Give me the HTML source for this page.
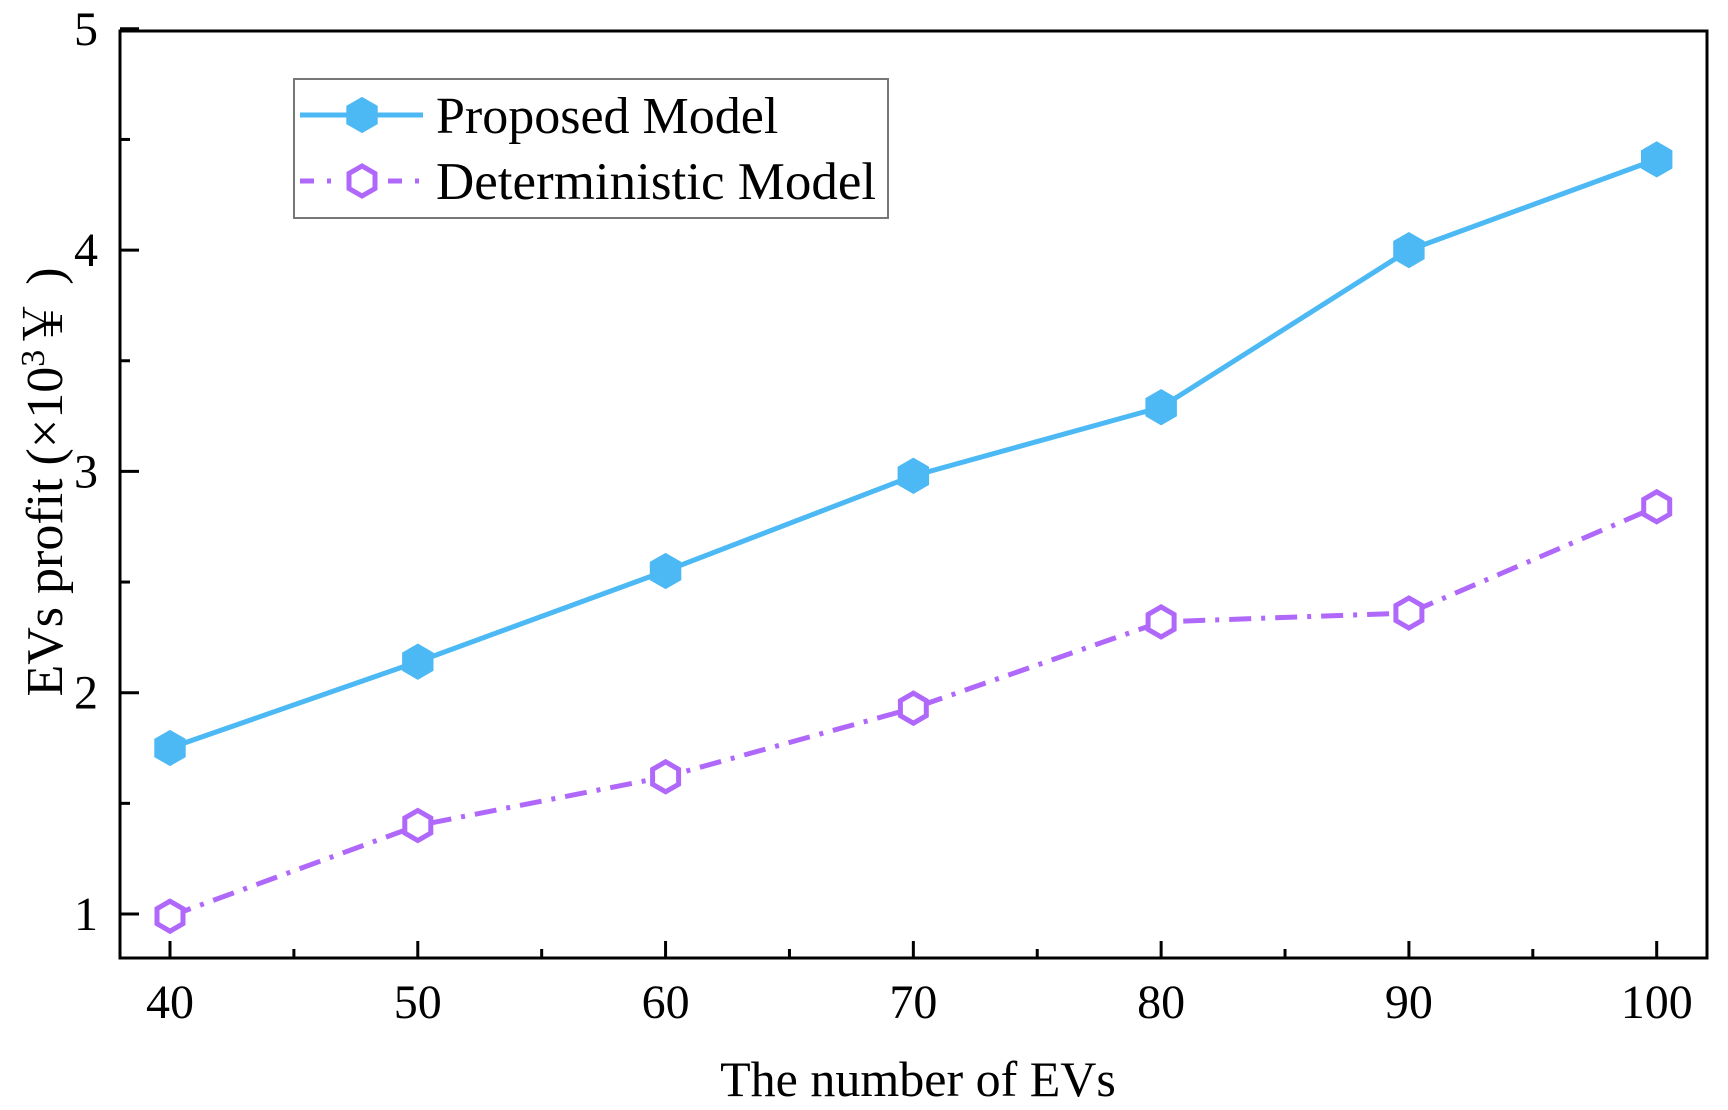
<!DOCTYPE html>
<html><head><meta charset="utf-8"><style>
html,body{margin:0;padding:0;background:#fff;}
svg{display:block;font-family:"Liberation Serif","Noto Serif CJK SC",serif;}
</style></head><body>
<svg id="chart" width="1728" height="1110" viewBox="0 0 1728 1110"></svg>
<script>
const categories = [40, 50, 60, 70, 80, 90, 100];
const proposedValues = [1.75, 2.14, 2.55, 2.98, 3.29, 4.0, 4.41];
const deterministicValues = [0.99, 1.40, 1.62, 1.93, 2.32, 2.36, 2.84];
const yTickLabels = [1, 2, 3, 4, 5];
const xTickLabels = [40, 50, 60, 70, 80, 90, 100];

const NS = "http://www.w3.org/2000/svg";
const svg = document.getElementById('chart');
const L = 120, R = 1707, T = 31, B = 958;
function xs(v){ return 170 + (v - 40) * (1656.7 - 170) / 60; }
function ys(v){ return 914 - (v - 1) * 221.3; }
function mk(tag, attrs, parent){
  const e = document.createElementNS(NS, tag);
  for (const k in attrs) e.setAttribute(k, attrs[k]);
  (parent || svg).appendChild(e);
  return e;
}
function hex(cx, cy, r){
  const p = [];
  for (let i = 0; i < 6; i++){ const a = Math.PI/2 + i*Math.PI/3; p.push((cx + r*Math.cos(a)).toFixed(1) + ',' + (cy - r*Math.sin(a)).toFixed(1)); }
  return p.join(' ');
}

const frame = mk('rect', {x:L, y:T, width:R-L, height:B-T, fill:'none', stroke:'#000', 'stroke-width':3});



for (let v = 40; v <= 100; v += 5){
  const major = v % 10 === 0;
  const t = mk('line', {x1:xs(v), x2:xs(v), y1:B, y2:B - (major ? 17 : 9), stroke:'#000', 'stroke-width':3});
  
  
}
xTickLabels.forEach(v => {
  const t = mk('text', {x:xs(v), y:1018, 'text-anchor':'middle', 'font-size':48, fill:'#000'});
  t.textContent = v;
  
  
});
for (let v = 1; v <= 5; v += 0.5){
  const major = Number.isInteger(v);
  const t = mk('line', {x1:L, x2:L + (major ? 19 : 10), y1:ys(v), y2:ys(v), stroke:'#000', 'stroke-width':3});
  
  
}
yTickLabels.forEach(v => {
  const t = mk('text', {x:98, y:ys(v) + 16, 'text-anchor':'end', 'font-size':48, fill:'#000'});
  t.textContent = v;
  
  
});

const xt = mk('text', {x:918, y:1096, 'text-anchor':'middle', 'font-size':50, fill:'#000'});
xt.textContent = 'The number of EVs';


const yt = mk('text', {x:0, y:0, 'text-anchor':'middle', 'font-size':52, fill:'#000', transform:'translate(62,482) rotate(-90)'});
yt.innerHTML = 'EVs profit (×10<tspan dy="-18" font-size="34">3</tspan><tspan dy="18">￥ )</tspan>';



const BLUE = '#4CB9F4', PURPLE = '#B068FA';
const pPts = categories.map((c, i) => xs(c) + ',' + ys(proposedValues[i])).join(' ');
const pl = mk('polyline', {points:pPts, fill:'none', stroke:BLUE, 'stroke-width':5});


categories.forEach((c, i) => {
  const m = mk('polygon', {points:hex(xs(c), ys(proposedValues[i]), 17), fill:BLUE, stroke:BLUE, 'stroke-width':2});
  
  
});
const dPts = categories.map((c, i) => xs(c) + ',' + ys(deterministicValues[i])).join(' ');
const dl = mk('polyline', {points:dPts, fill:'none', stroke:PURPLE, 'stroke-width':5, 'stroke-dasharray':'22 10 4 10'});


categories.forEach((c, i) => {
  const m = mk('polygon', {points:hex(xs(c), ys(deterministicValues[i]), 15), fill:'#fff', stroke:PURPLE, 'stroke-width':5});
  
  
});

const lg = mk('g', {});


mk('rect', {x:294, y:79, width:594, height:139, fill:'#fff', stroke:'#777', 'stroke-width':2}, lg);
const e1 = mk('g', {}, lg);


mk('line', {x1:300, x2:423, y1:115, y2:115, stroke:BLUE, 'stroke-width':5}, e1);
mk('polygon', {points:hex(362, 115, 17), fill:BLUE, stroke:BLUE, 'stroke-width':2}, e1);
const t1 = mk('text', {x:436, y:133, 'font-size':52, fill:'#000'}, e1);
t1.textContent = 'Proposed Model';
const e2 = mk('g', {}, lg);


mk('line', {x1:300, x2:423, y1:181, y2:181, stroke:PURPLE, 'stroke-width':5, 'stroke-dasharray':'14 13 4 13'}, e2);
mk('rect', {x:340, y:162, width:44, height:38, fill:'#fff'}, e2);
mk('polygon', {points:hex(362, 181, 15), fill:'#fff', stroke:PURPLE, 'stroke-width':5}, e2);
const t2 = mk('text', {x:436, y:199, 'font-size':53, fill:'#000'}, e2);
t2.textContent = 'Deterministic Model';
</script>
</body></html>
